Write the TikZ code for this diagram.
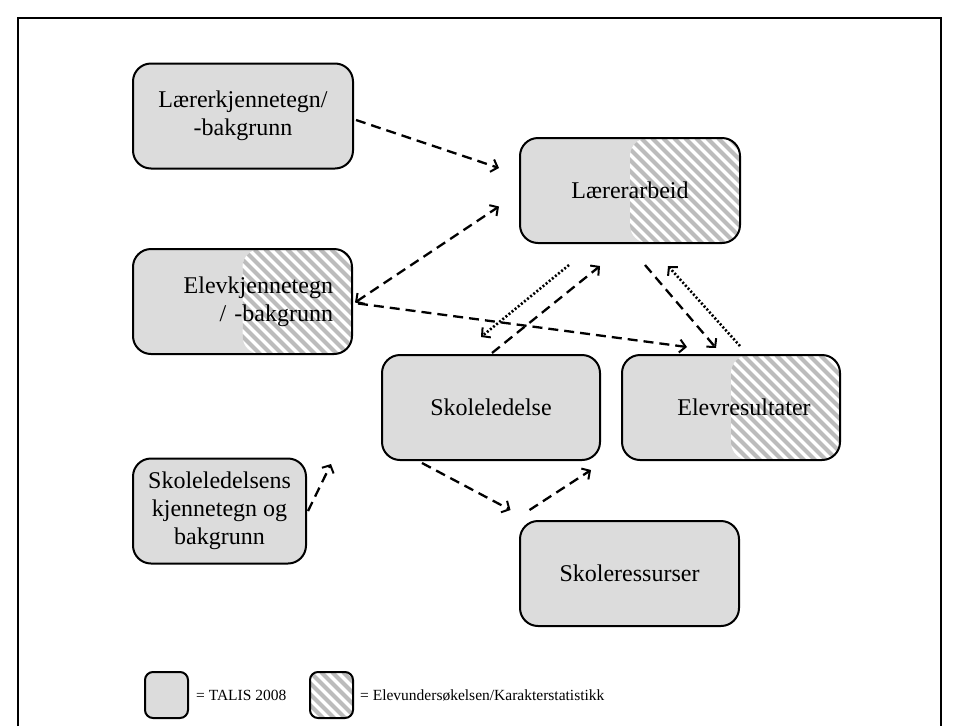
\documentclass[tikz,border=0pt]{standalone}
\usepackage{fontspec}
\setmainfont{Liberation Serif}
\usetikzlibrary{arrows.meta,calc}
\definecolor{boxgray}{RGB}{220,220,220}
\definecolor{stripegray}{RGB}{188,188,188}
\tikzset{
  box/.style={draw=black, line width=2pt, rounded corners=18pt, fill=boxgray,
    minimum width=220pt, minimum height=105pt, align=center, inner sep=0pt,
    font=\fontsize{24}{28}\selectfont},
  legbox/.style={draw=black, line width=2pt, rounded corners=8pt, fill=boxgray,
    minimum width=43pt, minimum height=46pt, inner sep=0pt},
  legtext/.style={font=\fontsize{15.5}{18}\selectfont, inner sep=0pt},
  hatchhalf/.style={path picture={
    \begin{scope}
      \path[clip, rounded corners=18pt] (path picture bounding box.north) rectangle (path picture bounding box.south east);
      \fill[white] (path picture bounding box.north west) rectangle (path picture bounding box.south east);
      \foreach \i in {-2,...,22}
        \draw[stripegray, line width=4pt] ($(path picture bounding box.north west)+(\i*11pt,0pt)$) -- ++(150pt,-150pt);
    \end{scope}}},
  hatchfull/.style={path picture={
    \begin{scope}
      \fill[white] (path picture bounding box.north west) rectangle (path picture bounding box.south east);
      \foreach \i in {-6,...,5}
        \draw[stripegray, line width=4pt] ($(path picture bounding box.north west)+(\i*11pt,0pt)$) -- ++(60pt,-60pt);
    \end{scope}}},
  frame/.style={line width=1.3pt, draw=black},
  dsh/.style={line width=2.3pt, dash pattern=on 10pt off 6pt,
    -{Straight Barb[length=6pt, width=13pt, line width=2pt]}},
  dshboth/.style={line width=2.3pt, dash pattern=on 10pt off 6pt,
    {Straight Barb[length=6pt, width=13pt, line width=2pt]}-{Straight Barb[length=6pt, width=13pt, line width=2pt]}},
  dot/.style={line width=2.6pt, dash pattern=on 2pt off 2pt,
    -{Straight Barb[length=6pt, width=13pt, line width=2pt]}},
}
\begin{document}
\begin{tikzpicture}[x=1pt,y=-1pt]
\useasboundingbox (0,0) rectangle (960,726);
\draw[frame] (18,726) -- (18,18) -- (941,18) -- (941,726);

\node[box] (lk) at (243,116) {Lærerkjennetegn/\\-bakgrunn};
\node[box, hatchhalf] (la) at (630,190.5) {Lærerarbeid};
\node[box, hatchhalf, text width=181pt, align=right, minimum width=219pt] (ek) at (242.5,301.5) {Elevkjennetegn\\/ -bakgrunn};
\node[box, minimum width=218pt] (sl) at (491,407.5) {Skoleledelse};
\node[box, hatchhalf, minimum width=218pt] (er) at (731,407.5) {\hspace*{26pt}Elevresultater};
\node[box, minimum width=173pt] (sk) at (219.5,511) {Skoleledelsens\\kjennetegn og\\bakgrunn};
\node[box, minimum width=219pt] (sr) at (629.5,573.5) {Skoleressurser};

\node[legbox] (lg1) at (166.5,695) {};
\node[legtext, anchor=west] (lt1) at (196,695) {= TALIS 2008};
\node[legbox, hatchfull] (lg2) at (331.5,695) {};
\node[legtext, anchor=west] (lt2) at (360,695) {= Elevundersøkelsen/Karakterstatistikk};

\draw[dsh] ([shift={(2,4)}]lk.east) -- ([shift={(-20,-22.5)}]la.west);
\draw[dshboth] ([shift={(2,1)}]ek.east) -- ([shift={(-20,16)}]la.west);
\draw[dsh] ([shift={(5,2)}]ek.east) -- ([shift={(-44,-7)}]er.north);
\draw[dsh] ([shift={(1,-1)}]sl.north) -- ([shift={(-30,22)}]la.south);
\draw[dot] ([shift={(-61,21)}]la.south) -- ([shift={(-10,-17)}]sl.north);
\draw[dsh] ([shift={(15,21)}]la.south) -- ([shift={(-15,-6)}]er.north);
\draw[dot] ([shift={(9,-8)}]er.north) -- ([shift={(38,22)}]la.south);
\draw[dsh] ([shift={(1,0)}]sk.east) -- ([shift={(-50,3)}]sl.south west);
\draw[dsh] ([shift={(-69,2)}]sl.south) -- ([shift={(-119,-10)}]sr.north);
\draw[dsh] ([shift={(-100,-10)}]sr.north) -- ([shift={(-140,9)}]er.south);
\end{tikzpicture}
\end{document}
